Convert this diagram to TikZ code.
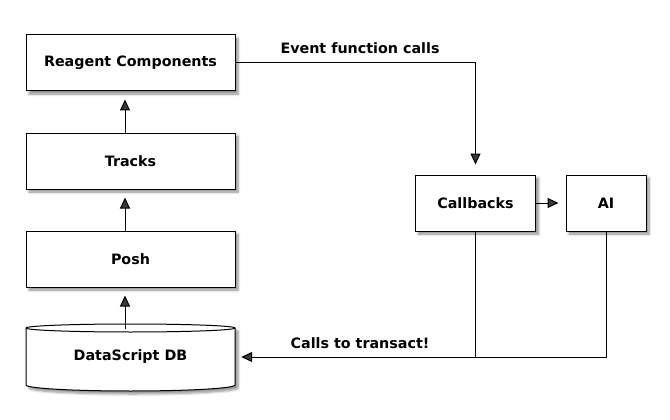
\documentclass[tikz,border=0pt]{standalone}
\usepackage{fontspec}
\setmainfont{DejaVu Sans}
\usetikzlibrary{arrows.meta,shadows.blur}
\begin{document}
\begin{tikzpicture}[x=1pt,y=-1pt,
  txt/.style={font=\fontsize{14.3}{17}\selectfont\bfseries},
  shad/.style={blur shadow={shadow xshift=3pt, shadow yshift=-3pt, shadow blur steps=6, shadow blur radius=2.5pt, shadow opacity=45}},
  box/.style={draw, line width=1pt, fill=white, minimum width=209pt, minimum height=56pt, inner sep=0pt, txt, shad},
  arr/.style={line width=1pt, -{Triangle[length=11pt,width=10pt]}},
  conn/.style={line width=1pt}]
\useasboundingbox (0,0) rectangle (670,420);
% boxes
\node[box] (reagent) at (130.5,63) {Reagent Components};
\node[box] (tracks) at (130.5,161) {Tracks};
\node[box] (posh) at (130.5,259) {Posh};
\node[box, minimum width=120pt] (callbacks) at (475.5,203) {Callbacks};
\node[box, minimum width=80pt] (ai) at (606,203) {AI};
% database cylinder
\filldraw[line width=1pt, fill=white, shad] (26,328) -- (26,385)
  arc[start angle=180, end angle=360, x radius=104.5pt, y radius=6pt]
  -- (235,328)
  arc[start angle=0, end angle=180, x radius=104.5pt, y radius=4pt] -- cycle;
\draw[line width=1pt] (26,328) arc[start angle=180, end angle=360, x radius=104.5pt, y radius=4pt];
\node[txt, minimum width=209pt, minimum height=60pt, inner sep=0pt] (db) at (130.5,357) {DataScript DB};
\coordinate (dbtop) at (125,329);
% connectors
\draw[arr, shorten >=8pt] ([xshift=-5.5pt]tracks.north) -- ([xshift=-5.5pt]reagent.south);
\draw[arr, shorten >=8pt] ([xshift=-5.5pt]posh.north) -- ([xshift=-5.5pt]tracks.south);
\draw[arr, shorten >=8pt] (dbtop) -- ([xshift=-5.5pt]posh.south);
\draw[arr, shorten >=10pt] (reagent.east) -| (callbacks.north);
\draw[arr, shorten >=7pt] (callbacks.east) -- (ai.west);
\draw[conn] (callbacks.south) -- (callbacks.south |- db.east);
\draw[arr, shorten >=6pt] (ai.south) |- (db.east);
% labels
\node[txt] (lab1) at (360,48) {Event function calls};
\node[txt] (lab2) at (360,343) {Calls to transact!};
\end{tikzpicture}
\end{document}
